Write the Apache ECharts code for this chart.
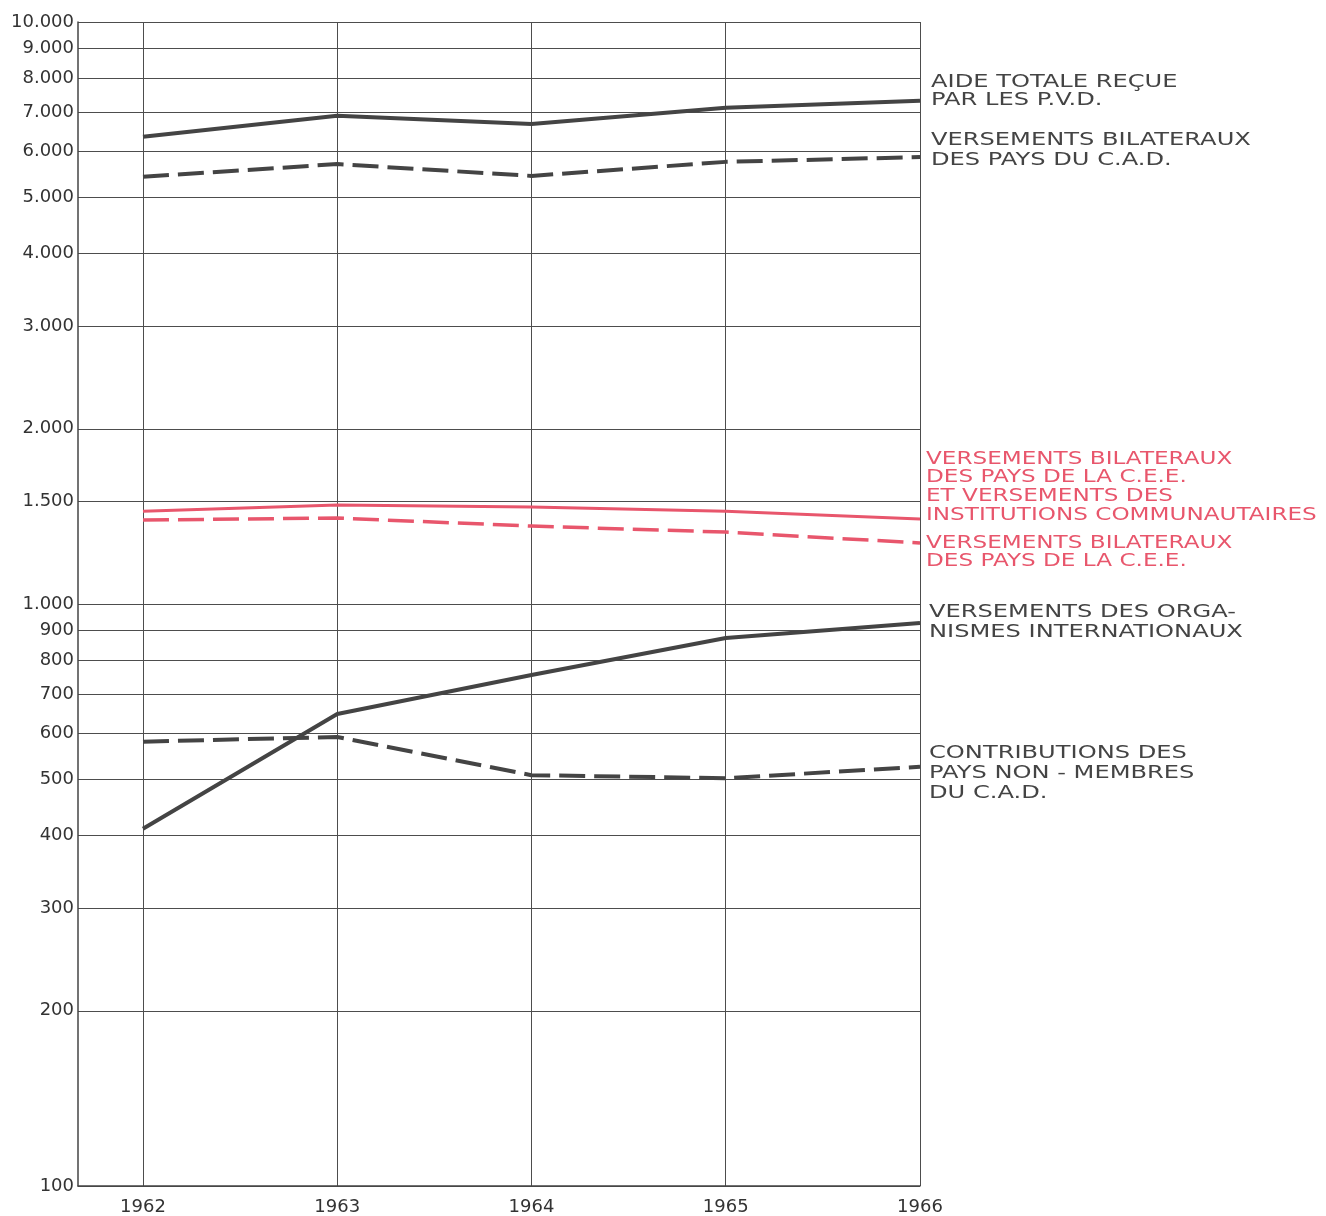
<!DOCTYPE html>
<html><head><meta charset="utf-8">
<script src="https://cdn.jsdelivr.net/npm/echarts@6/dist/echarts.min.js"></script>
<style>html,body{margin:0;padding:0;background:#fff}#c{width:1326px;height:1216px}</style>
</head><body><div id="c"></div>
<script>
// ---- data ----
const years = [1962, 1963, 1964, 1965, 1966];
const aideTotale = [6350, 6900, 6680, 7120, 7320];
const bilatCAD = [5420, 5700, 5440, 5750, 5860];
const ceeEtInstitutions = [1444, 1480, 1468, 1444, 1400];
const bilatCEE = [1394, 1405, 1361, 1329, 1273];
const organismesInt = [411, 647, 755, 874, 928];
const nonMembres = [580, 591, 508, 502, 525];
const yTicks = [100, 200, 300, 400, 500, 600, 700, 800, 900, 1000, 1500, 2000, 3000, 4000, 5000, 6000, 7000, 8000, 9000, 10000];

const labelAide = 'AIDE TOTALE REÇUE\nPAR LES P.V.D.';
const labelCAD = 'VERSEMENTS BILATERAUX\nDES PAYS DU C.A.D.';
const labelCEEInst = 'VERSEMENTS BILATERAUX\nDES PAYS DE LA C.E.E.\nET VERSEMENTS DES\nINSTITUTIONS COMMUNAUTAIRES';
const labelCEE = 'VERSEMENTS BILATERAUX\nDES PAYS DE LA C.E.E.';
const labelOrg = 'VERSEMENTS DES ORGA-\nNISMES INTERNATIONAUX';
const labelNon = 'CONTRIBUTIONS DES\nPAYS NON - MEMBRES\nDU C.A.D.';

// ---- chart ----
const ink = '#444444';
const red = '#e8566c';
const font = 'DejaVu Sans';

function fmt(v) {
  let n = v <= 5 ? Math.pow(10, v) : v;
  n = Math.round(n);
  return String(n).replace(/\B(?=(\d{3})+(?!\d))/g, '.');
}
function mk(name, vals, color, width, dashed) {
  return {
    name, type: 'line', symbol: 'none', z: 5,
    data: years.map((y, i) => [y, vals[i]]),
    lineStyle: { color, width, type: dashed ? [26, 9] : 'solid', cap: 'butt', join: 'round' }
  };
}
function txt(text, x, y, color, lh, sx) {
  return {
    type: 'text', x, y, scaleX: sx, z: 10,
    style: { text, fill: color, font: '17px "' + font + '"', lineHeight: lh, verticalAlign: 'top', textVerticalAlign: 'top' }
  };
}

const chart = echarts.init(document.getElementById('c'), null, { renderer: 'canvas' });
chart.setOption({
  animation: false,
  backgroundColor: '#ffffff',
  grid: { left: 78, right: 406, top: 22, bottom: 30, containLabel: false },
  xAxis: {
    type: 'value', min: 1961.6655, max: 1966,
    axisLine: { show: true, onZero: false, lineStyle: { color: ink, width: 1.5 } },
    axisTick: { show: false, customValues: years },
    axisLabel: { customValues: years, margin: 12, color: '#333', fontSize: 18, fontFamily: font, formatter: v => String(Math.round(v)) },
    splitLine: { show: true, lineStyle: { color: '#4d4d4d', width: 1 } }
  },
  yAxis: {
    type: 'log', logBase: 10, min: 100, max: 10000,
    axisLine: { show: true, lineStyle: { color: ink, width: 1.5 } },
    axisTick: { show: false, customValues: yTicks },
    axisLabel: { customValues: yTicks, margin: 4, color: '#333', fontSize: 18, fontFamily: font, formatter: fmt },
    splitLine: { show: true, lineStyle: { color: '#4d4d4d', width: 1 } },
    minorSplitLine: { show: false }
  },
  series: [
    mk('Aide totale', aideTotale, ink, 4, false),
    mk('Bilat CAD', bilatCAD, ink, 4, true),
    mk('CEE + institutions', ceeEtInstitutions, red, 3, false),
    mk('Bilat CEE', bilatCEE, red, 3.5, true),
    mk('Organismes internationaux', organismesInt, ink, 4, false),
    mk('Non-membres', nonMembres, ink, 4, true)
  ],
  graphic: [
    txt(labelAide, 931, 73, ink, 18.5, 1.42),
    txt(labelCAD, 931, 131, ink, 19.5, 1.42),
    txt(labelCEEInst, 926, 450, red, 18.7, 1.36),
    txt(labelCEE, 926, 534, red, 18.7, 1.36),
    txt(labelOrg, 929, 603, ink, 19.7, 1.42),
    txt(labelNon, 929, 744, ink, 19.7, 1.42)
  ]
});
</script>
</body></html>
